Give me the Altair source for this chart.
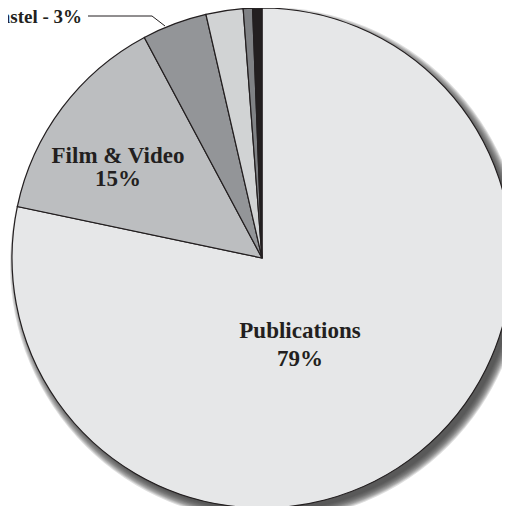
import altair as alt
import pandas as pd

# Slice data (clockwise from 12 o'clock), shares in percent
categories = ["Publications", "Film & Video", "Pastel", "Other 1", "Other 2", "Other 3"]
shares = [78.3, 13.9, 4.2, 2.4, 0.6, 0.6]
colors = ["#e6e7e8", "#bcbec0", "#939598", "#d1d3d4", "#808285", "#231f20"]

df = pd.DataFrame({"cat": categories, "value": shares, "idx": list(range(len(categories)))})

W, H = 494, 498
CX, CY = 254, 250
R = 250
FONT = "Liberation Serif"

one = pd.DataFrame({"a": [0]})

# soft drop shadow built from stacked translucent discs
shadow_layers = []
for k in range(10):
    shadow_layers.append(
        alt.Chart(one).mark_arc(theta=0, theta2=6.2832, radius=R - 2 + k,
                                color="#3a3a3c", opacity=0.17)
        .encode(x=alt.value(CX + 5), y=alt.value(CY + 6))
    )

pie = alt.Chart(df).mark_arc(radius=R, stroke="#231f20", strokeWidth=1.2).encode(
    theta=alt.Theta("value:Q", stack=True),
    order=alt.Order("idx:Q"),
    color=alt.Color("cat:N", scale=alt.Scale(domain=categories, range=colors), legend=None),
    x=alt.value(CX),
    y=alt.value(CY),
)

def label(lines, x, y, size=23, align="center", lh=25):
    return alt.Chart(one).mark_text(
        text=lines, font=FONT, fontWeight="bold", fontSize=size,
        color="#231f20", align=align, baseline="alphabetic", lineHeight=lh,
    ).encode(x=alt.value(x), y=alt.value(y))

pub = label(["Publications", "79%"], 292, 330, lh=28)
film = label(["Film & Video", "15%"], 110, 155, lh=23)
pastel = label("Pastel - 3%", 74, 15, size=19, align="right")

lead1 = alt.Chart(one).mark_rule(color="#231f20", strokeWidth=1).encode(
    x=alt.value(80), x2=alt.value(144), y=alt.value(8), y2=alt.value(8))
lead2 = alt.Chart(one).mark_rule(color="#231f20", strokeWidth=1).encode(
    x=alt.value(144), x2=alt.value(157), y=alt.value(8), y2=alt.value(18))

chart = alt.layer(*shadow_layers, pie, pub, film, pastel, lead1, lead2).properties(
    width=W, height=H, padding=0, autosize=alt.AutoSizeParams(type="none")
).configure_view(stroke=None)

chart.save("out.html", embed_options={"renderer": "svg", "actions": False})
